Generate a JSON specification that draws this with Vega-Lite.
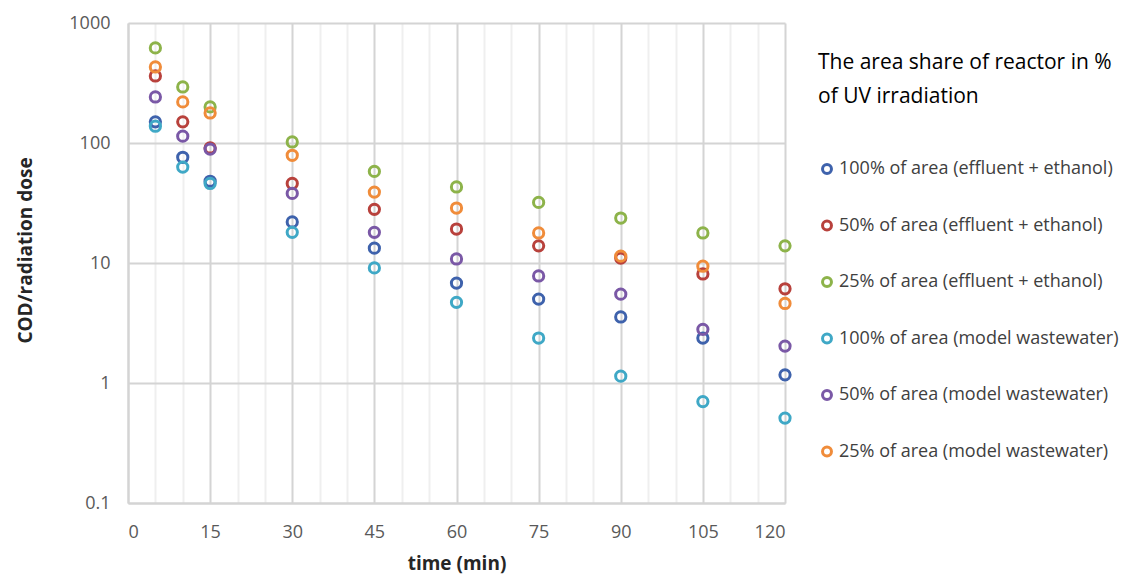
{
  "$schema": "https://vega.github.io/schema/vega-lite/v6.json",
  "width": 657,
  "height": 480,
  "autosize": {"type": "none"},
  "padding": {"left": 128, "top": 23, "right": 339, "bottom": 71},
  "background": "white",
  "config": {
    "font": "Open Sans",
    "view": {"stroke": null}
  },
  "data": {
    "values": [
      {"t": 5, "v": 150, "s": "100% of area (effluent + ethanol)"},
      {"t": 10, "v": 76, "s": "100% of area (effluent + ethanol)"},
      {"t": 15, "v": 48, "s": "100% of area (effluent + ethanol)"},
      {"t": 30, "v": 22, "s": "100% of area (effluent + ethanol)"},
      {"t": 45, "v": 13.3, "s": "100% of area (effluent + ethanol)"},
      {"t": 60, "v": 6.8, "s": "100% of area (effluent + ethanol)"},
      {"t": 75, "v": 5.0, "s": "100% of area (effluent + ethanol)"},
      {"t": 90, "v": 3.55, "s": "100% of area (effluent + ethanol)"},
      {"t": 105, "v": 2.37, "s": "100% of area (effluent + ethanol)"},
      {"t": 120, "v": 1.17, "s": "100% of area (effluent + ethanol)"},

      {"t": 5, "v": 362, "s": "50%  of area (effluent + ethanol)"},
      {"t": 10, "v": 150, "s": "50%  of area (effluent + ethanol)"},
      {"t": 15, "v": 91, "s": "50%  of area (effluent + ethanol)"},
      {"t": 30, "v": 46, "s": "50%  of area (effluent + ethanol)"},
      {"t": 45, "v": 28, "s": "50%  of area (effluent + ethanol)"},
      {"t": 60, "v": 19.2, "s": "50%  of area (effluent + ethanol)"},
      {"t": 75, "v": 13.9, "s": "50%  of area (effluent + ethanol)"},
      {"t": 90, "v": 11.0, "s": "50%  of area (effluent + ethanol)"},
      {"t": 105, "v": 8.1, "s": "50%  of area (effluent + ethanol)"},
      {"t": 120, "v": 6.1, "s": "50%  of area (effluent + ethanol)"},

      {"t": 5, "v": 620, "s": "25%  of area (effluent + ethanol)"},
      {"t": 10, "v": 293, "s": "25%  of area (effluent + ethanol)"},
      {"t": 15, "v": 200, "s": "25%  of area (effluent + ethanol)"},
      {"t": 30, "v": 102, "s": "25%  of area (effluent + ethanol)"},
      {"t": 45, "v": 58, "s": "25%  of area (effluent + ethanol)"},
      {"t": 60, "v": 43, "s": "25%  of area (effluent + ethanol)"},
      {"t": 75, "v": 32, "s": "25%  of area (effluent + ethanol)"},
      {"t": 90, "v": 23.7, "s": "25%  of area (effluent + ethanol)"},
      {"t": 105, "v": 17.8, "s": "25%  of area (effluent + ethanol)"},
      {"t": 120, "v": 13.9, "s": "25%  of area (effluent + ethanol)"},

      {"t": 5, "v": 138, "s": "100% of area (model wastewater)"},
      {"t": 10, "v": 63, "s": "100% of area (model wastewater)"},
      {"t": 15, "v": 46, "s": "100% of area (model wastewater)"},
      {"t": 30, "v": 18, "s": "100% of area (model wastewater)"},
      {"t": 45, "v": 9.1, "s": "100% of area (model wastewater)"},
      {"t": 60, "v": 4.7, "s": "100% of area (model wastewater)"},
      {"t": 75, "v": 2.37, "s": "100% of area (model wastewater)"},
      {"t": 90, "v": 1.14, "s": "100% of area (model wastewater)"},
      {"t": 105, "v": 0.70, "s": "100% of area (model wastewater)"},
      {"t": 120, "v": 0.51, "s": "100% of area (model wastewater)"},

      {"t": 5, "v": 242, "s": "50% of area (model wastewater)"},
      {"t": 10, "v": 114, "s": "50% of area (model wastewater)"},
      {"t": 15, "v": 89, "s": "50% of area (model wastewater)"},
      {"t": 30, "v": 38, "s": "50% of area (model wastewater)"},
      {"t": 45, "v": 18, "s": "50% of area (model wastewater)"},
      {"t": 60, "v": 10.8, "s": "50% of area (model wastewater)"},
      {"t": 75, "v": 7.8, "s": "50% of area (model wastewater)"},
      {"t": 90, "v": 5.5, "s": "50% of area (model wastewater)"},
      {"t": 105, "v": 2.8, "s": "50% of area (model wastewater)"},
      {"t": 120, "v": 2.03, "s": "50% of area (model wastewater)"},

      {"t": 5, "v": 430, "s": "25% of area (model wastewater)"},
      {"t": 10, "v": 220, "s": "25% of area (model wastewater)"},
      {"t": 15, "v": 178, "s": "25% of area (model wastewater)"},
      {"t": 30, "v": 79, "s": "25% of area (model wastewater)"},
      {"t": 45, "v": 39, "s": "25% of area (model wastewater)"},
      {"t": 60, "v": 28.7, "s": "25% of area (model wastewater)"},
      {"t": 75, "v": 17.8, "s": "25% of area (model wastewater)"},
      {"t": 90, "v": 11.4, "s": "25% of area (model wastewater)"},
      {"t": 105, "v": 9.4, "s": "25% of area (model wastewater)"},
      {"t": 120, "v": 4.6, "s": "25% of area (model wastewater)"}
    ]
  },
  "mark": {"type": "point", "shape": "circle", "filled": false, "strokeWidth": 3, "size": 105, "opacity": 1},
  "encoding": {
    "x": {
      "field": "t",
      "type": "quantitative",
      "scale": {"domain": [0, 120], "nice": false, "zero": false},
      "axis": {
        "title": "time (min)",
        "values": [0, 5, 10, 15, 20, 25, 30, 35, 40, 45, 50, 55, 60, 65, 70, 75, 80, 85, 90, 95, 100, 105, 110, 115, 120],
        "labelExpr": "datum.value % 15 === 0 ? datum.label : ''",
        "ticks": false,
        "grid": true,
        "gridColor": {"condition": {"test": "datum.value % 15 === 0", "value": "#d4d4d4"}, "value": "#efefef"},
        "gridWidth": 2,
        "domainColor": "#d4d4d4",
        "domainWidth": 2,
        "labelFontSize": 18,
        "labelColor": "#595959",
        "labelPadding": 20,
        "titleFontSize": 19,
        "titleFontWeight": "bold",
        "titleColor": "#262626",
        "titlePadding": 13
      }
    },
    "y": {
      "field": "v",
      "type": "quantitative",
      "scale": {"type": "log", "domain": [0.1, 1000], "nice": false},
      "axis": {
        "title": "COD/radiation dose",
        "values": [0.1, 1, 10, 100, 1000],
        "format": "~g",
        "ticks": false,
        "grid": true,
        "gridColor": "#d4d4d4",
        "gridWidth": 2,
        "domainColor": "#d4d4d4",
        "domainWidth": 2,
        "labelFontSize": 18,
        "labelColor": "#595959",
        "labelPadding": 18,
        "titleFontSize": 19,
        "titleFontWeight": "bold",
        "titleColor": "#262626",
        "titlePadding": 33,
        "titleY": 227
      }
    },
    "color": {
      "field": "s",
      "type": "nominal",
      "sort": null,
      "scale": {
        "domain": [
          "100% of area (effluent + ethanol)",
          "50%  of area (effluent + ethanol)",
          "25%  of area (effluent + ethanol)",
          "100% of area (model wastewater)",
          "50% of area (model wastewater)",
          "25% of area (model wastewater)"
        ],
        "range": ["#3E62AC", "#B8413C", "#8DB34A", "#3FA8C6", "#7A58A6", "#F08C3A"]
      },
      "legend": {
        "orient": "none",
        "legendX": 690,
        "legendY": 29,
        "title": ["The area share of reactor in %", "of UV irradiation"],
        "titleFontSize": 21,
        "titleFontWeight": "normal",
        "titleColor": "#000000",
        "titleLineHeight": 34,
        "titlePadding": 53,
        "titleLimit": 400,
        "labelFontSize": 18,
        "labelColor": "#404040",
        "labelLimit": 400,
        "rowPadding": 34.5,
        "symbolType": "circle",
        "symbolSize": 80,
        "symbolStrokeWidth": 3,
        "symbolFillColor": "white",
        "symbolOffset": 0,
        "labelOffset": 3
      }
    }
  }
}
